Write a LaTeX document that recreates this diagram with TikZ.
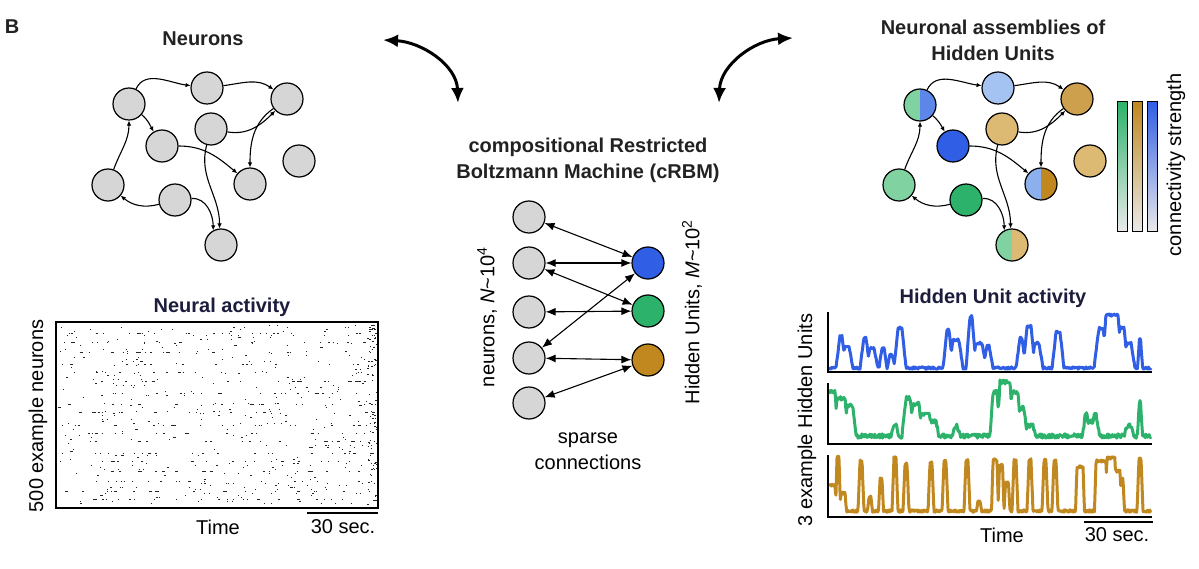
\documentclass[tikz,border=0pt]{standalone}
\usepackage{fontspec}
\setmainfont{Liberation Sans}
\usetikzlibrary{arrows.meta}

\definecolor{cellgray}{RGB}{214,214,214}
\definecolor{titlegray}{RGB}{34,34,34}
\definecolor{titlenavy}{RGB}{28,28,60}
\definecolor{hublue}{RGB}{48,94,228}
\definecolor{hugreen}{RGB}{44,178,106}
\definecolor{hugold}{RGB}{192,136,30}
\definecolor{lightgreen}{RGB}{128,210,160}
\definecolor{midblue}{RGB}{92,135,232}
\definecolor{paleblue}{RGB}{165,195,242}
\definecolor{softblue}{RGB}{140,176,238}
\definecolor{tandark}{RGB}{204,160,76}
\definecolor{tanlight}{RGB}{220,186,116}

\begin{document}
\begin{tikzpicture}[x=1pt,y=1pt,>=latex,
    font=\fontsize{20}{26}\selectfont,
    declare function={bump(\x,\c,\w,\r)=min(1,max(0,(\w+\r-abs(\x-\c))/\r));},
    cell/.style={circle,draw,line width=1.2pt,minimum size=32pt,inner sep=0pt,fill=cellgray},
    halves/.style 2 args={fill=#2,path picture={\fill[#1] (path picture bounding box.south west) rectangle (path picture bounding box.north);}},
    link/.style={->,line width=1.1pt,>={Latex[length=5pt,width=4.5pt]}},
    syn/.style={<->,line width=1.1pt,>={Latex[length=10pt,width=8pt]}},
    bigarrow/.style={<->,line width=3pt,>={Latex[length=15pt,width=13pt]}},
    heading/.style={font=\fontsize{20}{26}\selectfont\bfseries,text=titlegray,align=center},
    spike/.style={line width=0.8pt,black!85},
    trace/.style={line width=3pt,line join=round}]

\useasboundingbox (0,0) rectangle (1199,-569);

\node[heading] (panel) at (12,-27) {B};

% neurons network
\node[heading] (neurons) at (203,-39) {Neurons};
\foreach \n/\x/\y in {1/129/104,2/207/88,3/287/99,4/211/129,5/162/146,
                      6/299/161,7/108/185,8/175/200,9/250/184,10/221/245}
    \node[cell] (l\n) at (\x,-\y) {};

% hidden unit assemblies, same layout shifted right
\node[heading] (assemblies) at (993,-40) {Neuronal assemblies of\\Hidden Units};
\foreach \n/\x/\y/\a/\b in {1/920/105/lightgreen/midblue,2/998/88/paleblue/paleblue,
                            3/1077/99/tandark/tandark,4/1002/129/tanlight/tanlight,
                            5/953/146/hublue/hublue,6/1090/161/tanlight/tanlight,
                            7/899/185/lightgreen/lightgreen,8/966/200/hugreen/hugreen,
                            9/1041/184/softblue/hugold,10/1012/245/lightgreen/tanlight}
    \node[cell,halves={\a}{\b}] (r\n) at (\x,-\y) {};

% the same recurrent links in both networks
\foreach \p in {l,r}{
    \draw[link] (\p1) to[out=65,in=172] (\p2);
    \draw[link] (\p2) to[out=8,in=145] (\p3);
    \draw[link] (\p4) to[out=-10,in=225] (\p3);
    \draw[link] (\p1) to[out=-40,in=120] (\p5);
    \draw[link] (\p7) to[out=70,in=-90] (\p1);
    \draw[link] (\p8) to[out=195,in=-40] (\p7);
    \draw[link] (\p5) to[out=0,in=140] (\p9);
    \draw[link] (\p3) to[out=-145,in=90] (\p9);
    \draw[link] (\p4) to[out=-105,in=90] (\p10.95);
    \draw[link] (\p8) to[out=5,in=90] (\p10.118);
}

% connectivity colour bars
\foreach \x/\c in {1117/hugreen,1132/hugold,1147/hublue}
    \draw[line width=1pt,top color=\c,bottom color=white!92!black] (\x,-102) rectangle ++(10,-130);
\node[rotate=90] (strength) at (1176,-165) {connectivity strength};

% the two curved arrows
\coordinate (lw) at (383,-40);
\coordinate (le) at (458,-103);
\coordinate (rw) at (793,-38);
\coordinate (re) at (719,-103);
\draw[bigarrow] (lw) to[out=-3,in=92] (le);
\draw[bigarrow] (rw) to[out=183,in=88] (re);

% cRBM
\node[heading] (crbm) at (588,-160) {compositional Restricted\\Boltzmann Machine (cRBM)};
\foreach \n/\y in {1/217,2/263,3/312,4/358,5/403}
    \node[cell] (v\n) at (529,-\y) {};
\foreach \n/\y/\c in {1/263/hublue,2/311/hugreen,3/360/hugold}
    \node[cell,fill=\c] (h\n) at (648,-\y) {};
\foreach \a/\b in {1/1,2/1,2/2,3/2,4/1,4/3,5/3}
    \draw[syn] (v\a) -- (h\b);
\node[rotate=90] (visible) at (487,-317) {neurons, \textit{N}\textasciitilde10\textsuperscript{4}};
\node[rotate=90] (hidden) at (692,-312) {Hidden Units, \textit{M}\textasciitilde10\textsuperscript{2}};
\node[align=center] (sparse) at (588,-451) {sparse\\connections};

% raster of neural activity
\node[heading,text=titlenavy] (rastertitle) at (222,-307) {Neural activity};
\node[rotate=90] (rasterlabel) at (38,-416) {500 example neurons};
\pgfmathsetseed{17}
\foreach \i in {1,...,420}{
    \pgfmathsetmacro\rx{58+314*rnd}
    \pgfmathsetmacro\ry{-325-2*int(90*rnd)}
    \pgfmathsetmacro\rl{0.4+2.5*rnd*rnd}
    \draw[spike] (\rx,\ry) -- ++(\rl,0);
}
\foreach \yy in {333,342,352,364,372,381,393,404,412,425,433,441,453,461,471,481,491,499}{
    \foreach \k in {1,...,16}{
        \pgfmathsetmacro\rx{58+314*rnd}
        \pgfmathsetmacro\rl{0.6+4*rnd*rnd}
        \draw[spike] (\rx,-\yy) -- ++(\rl,0);
    }
}
\foreach \k in {1,...,90}{
    \pgfmathsetmacro\rx{367+9*rnd}
    \pgfmathsetmacro\ry{-325-180*rnd}
    \draw[spike] (\rx,\ry) -- ++(1.5,0);
}
\draw[line width=1.3pt] (56,-322) rectangle (378,-508);
\node (rastertime) at (218,-527) {Time};
\node (rastersec) at (343,-527) {30 sec.};
\draw[line width=2pt] (307,-513) -- (378,-513);

% hidden unit activity
\node[heading,text=titlenavy] (tracetitle) at (993,-298) {Hidden Unit activity};
\node[rotate=90] (tracelabel) at (807,-420) {3 example Hidden Units};
\begin{scope}[shift={(829,-372)}]
\draw[trace,hublue] plot[domain=0:322,samples=500] (\x,{4+1.2*rand+max(
    32*bump(\x,12,1,4),22*bump(\x,18,2,4),30*bump(\x,36,1,4),20*bump(\x,43,2,4),
    20*bump(\x,54,1,3),14*bump(\x,62,1,3),40*bump(\x,71,2,4),
    38*bump(\x,119,1,4),28*bump(\x,127,3,4),52*bump(\x,142,1,4),25*bump(\x,150,3,4),
    22*bump(\x,159,1,4),30*bump(\x,192,1,4),42*bump(\x,200,2,4),25*bump(\x,208,2,4),
    36*bump(\x,229,2,4),40*bump(\x,272,2,5),53*bump(\x,283,6,4),40*bump(\x,293,2,4),
    25*bump(\x,300,2,4),30*bump(\x,311,0.5,2))});
\end{scope}
\begin{scope}[shift={(829,-444)}]
\draw[trace,hugreen] plot[domain=0:322,samples=500] (\x,{8+2.2*rand+max(
    45*bump(\x,2,4,3),38*bump(\x,12,4,3),30*bump(\x,21,3,3),
    12*bump(\x,66,1,3),38*bump(\x,79,2,4),32*bump(\x,87,3,3),22*bump(\x,96,4,3),
    15*bump(\x,104,3,3),10*bump(\x,127,1,3),44*bump(\x,166,2,3),54*bump(\x,176,5,3),
    44*bump(\x,186,3,3),28*bump(\x,193,2,3),10*bump(\x,201,3,3),14*bump(\x,262,6,3),
    22*bump(\x,257,1,2),22*bump(\x,266,1,2),10*bump(\x,300,2,3),36*bump(\x,311,0.5,2))});
\end{scope}
\begin{scope}[shift={(829,-517)}]
\draw[trace,hugold] plot[domain=0:322,samples=650] (\x,{6+1.2*rand+max(
    26*bump(\x,3,3,1.5),54*bump(\x,9,1,1.5),18*bump(\x,14,2,1.5),
    50*bump(\x,32,1,2),14*bump(\x,41,1,1.5),32*bump(\x,52,1,1.5),
    54*bump(\x,66,1,2),47*bump(\x,77,1,2),48*bump(\x,102,1,2),
    50*bump(\x,116,1,2),51*bump(\x,138,1,2),10*bump(\x,150,1,1.5),
    51*bump(\x,166,2,1.5),46*bump(\x,172,1.5,1.5),28*bump(\x,178,1.5,1.5),
    51*bump(\x,186,1,2),51*bump(\x,201,1,2),51*bump(\x,216,1,2),
    51*bump(\x,226,1,2),44*bump(\x,251,3,1.5),50*bump(\x,272,5,1.5),
    53*bump(\x,282,4,1.5),40*bump(\x,288,3,1.5),32*bump(\x,293,1,1.5),
    53*bump(\x,311,1,2))});
\end{scope}

% axes of the three traces
\foreach \b/\t in {372/312,444/383,517/455}
    \draw[line width=1.3pt] (828,-\t) -- (828,-\b) -- (1152,-\b);
\node (tracetime) at (1002,-535) {Time};
\node (tracesec) at (1117,-535) {30 sec.};
\draw[line width=2pt] (1084,-522) -- (1153,-522);

\end{tikzpicture}
\end{document}
